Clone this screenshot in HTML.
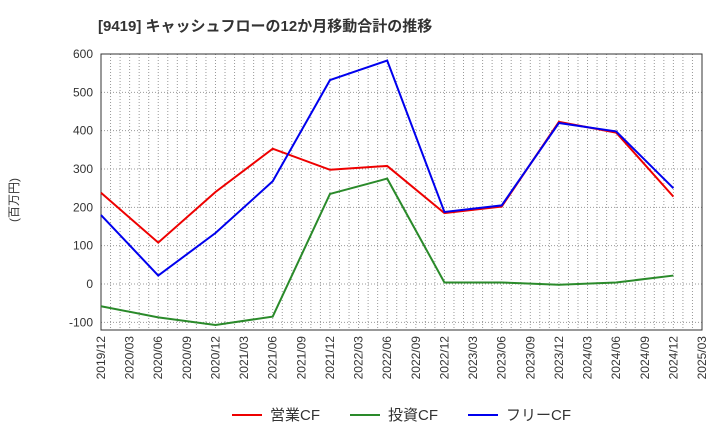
<!DOCTYPE html>
<html><head><meta charset="utf-8"><style>
body{margin:0;background:#fff;width:720px;height:440px;overflow:hidden;font-family:"Liberation Sans","Noto Sans CJK JP",sans-serif}
</style></head><body>
<svg id="c" width="720" height="440" font-family="Liberation Sans, Noto Sans CJK JP, sans-serif">
<text x="98" y="31" font-size="15" font-weight="bold" fill="#333">[9419]  キャッシュフローの12か月移動合計の推移</text>
<text x="18" y="200" font-size="12" fill="#333" transform="rotate(-90 18 200)" text-anchor="middle">(百万円)</text>
<g id="grid"></g><g id="axes"></g><g id="series"></g>
<g>
<line x1="232" y1="415" x2="262" y2="415" stroke="#e00" stroke-width="2"/><text x="270" y="420" font-size="15" fill="#333">営業CF</text>
<line x1="350" y1="415" x2="380" y2="415" stroke="#2a8a2a" stroke-width="2"/><text x="388" y="420" font-size="15" fill="#333">投資CF</text>
<line x1="468" y1="415" x2="498" y2="415" stroke="#00e" stroke-width="2"/><text x="506" y="420" font-size="15" fill="#333">フリーCF</text>
</g>
</svg>
<script>
const xLabels=["2019/12","2020/03","2020/06","2020/09","2020/12","2021/03","2021/06","2021/09","2021/12","2022/03","2022/06","2022/09","2022/12","2023/03","2023/06","2023/09","2023/12","2024/03","2024/06","2024/09","2024/12","2025/03"];
const yTicks=[-100,0,100,200,300,400,500,600];
const pointIdx=[0,2,4,6,8,10,12,14,16,18,20];
const operatingCF=[238,108,240,353,298,308,185,202,423,395,228];
const investingCF=[-58,-87,-107,-85,235,275,4,4,-2,4,22];
const freeCF=[180,22,133,268,532,583,188,205,420,398,250];
const NS="http://www.w3.org/2000/svg";
const L=101,R=702,T=54,B=330;
const x=i=>L+(R-L)*i/21;
const y=v=>284-v*0.3833;
function mk(tag,attrs,parent){const e=document.createElementNS(NS,tag);for(const k in attrs)e.setAttribute(k,attrs[k]);document.getElementById(parent).appendChild(e);return e;}
for(let m=1;m<63;m++){const xx=L+(R-L)*m/63;const g=mk('line',{x1:xx,x2:xx,y1:T,y2:B,stroke:'#999','stroke-dasharray':'1,2','stroke-width':1},'grid');

}
yTicks.forEach(v=>{const g=mk('line',{x1:L,x2:R,y1:y(v),y2:y(v),stroke:'#999','stroke-dasharray':'1,2'},'grid');


const t=mk('text',{x:L-8,y:y(v)+4,'text-anchor':'end','font-size':12,fill:'#333'},'axes');t.textContent=v;

});
const fr=mk('rect',{x:L,y:T,width:R-L,height:B-T,fill:'none',stroke:'#333'},'axes');


xLabels.forEach((s,i)=>{const t=mk('text',{x:0,y:0,'text-anchor':'end','font-size':12,fill:'#333',transform:`translate(${x(i)+4},${B+6}) rotate(-90)`},'axes');t.textContent=s;

});
[[operatingCF,'#e00','operating-cf-line'],[investingCF,'#2a8a2a','investing-cf-line'],[freeCF,'#00e','free-cf-line']].forEach(([d,c,n])=>{
const p=mk('polyline',{points:d.map((v,i)=>x(pointIdx[i])+','+y(v)).join(' '),fill:'none',stroke:c,'stroke-width':2},'series');

});
</script>
</body></html>
